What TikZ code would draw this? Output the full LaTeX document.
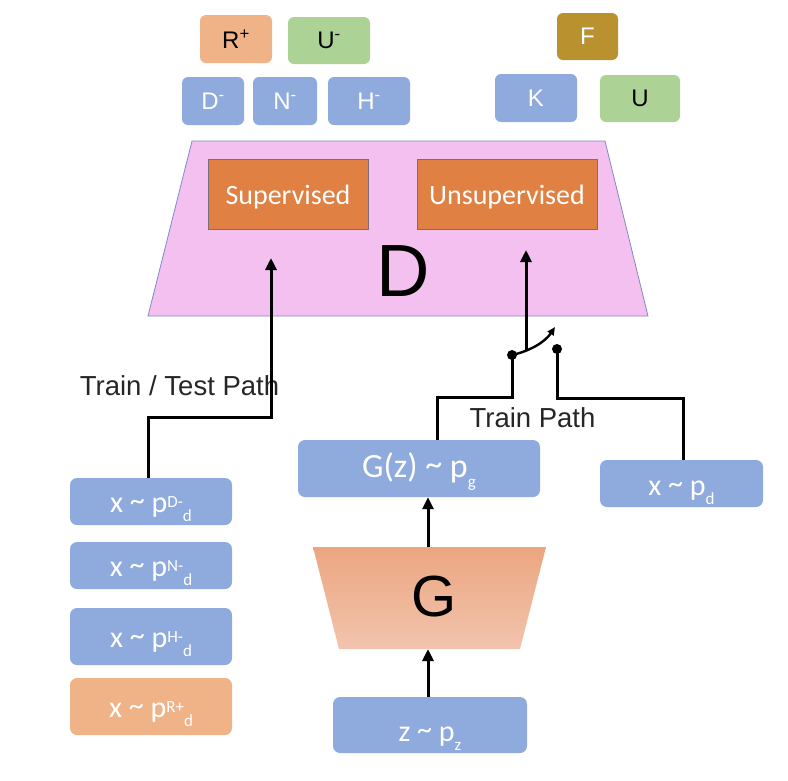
\documentclass[tikz,border=0pt]{standalone}
\usepackage{fontspec}
\setmainfont{Carlito}
\newfontfamily\arialf{Liberation Sans}
\usetikzlibrary{arrows.meta,calc}
\definecolor{boxblue}{HTML}{8FAADC}
\definecolor{boxorange}{HTML}{F0B287}
\definecolor{boxgreen}{HTML}{ADD295}
\definecolor{boxgold}{HTML}{BA912F}
\definecolor{dpink}{HTML}{F3C0F0}
\definecolor{dborder}{HTML}{8089C8}
\definecolor{darkorange}{HTML}{E08042}
\definecolor{supborder}{HTML}{7A6C78}
\definecolor{gtop}{HTML}{EBA680}
\definecolor{gbot}{HTML}{F2C4AE}
\newcommand\mysup[1]{\raisebox{0.14em}{\fontsize{17}{17}\selectfont #1}}
\newcommand\mysub[1]{\raisebox{-0.3em}{\fontsize{17}{17}\selectfont #1}}
\newcommand\tld{\raisebox{0.05em}{\textasciitilde}}
\begin{document}
\begin{tikzpicture}[x=1pt,y=-1pt,
  tag/.style={rectangle,rounded corners=6pt,inner sep=0pt,font=\arialf\fontsize{24}{24}\selectfont},
  bluetag/.style={tag,fill=boxblue,text=white},
  dist/.style={rectangle,rounded corners=7pt,inner sep=0pt,fill=boxblue,text=white,font=\fontsize{30}{30}\selectfont,text height=21pt,text depth=0pt},
  headbox/.style={rectangle,draw=supborder,line width=0.8pt,fill=darkorange,text=white,inner sep=0pt,font=\fontsize{28}{28}\selectfont,text height=20pt,text depth=0pt},
  pathlabel/.style={font=\arialf\fontsize{27.5}{27.5}\selectfont,text=black!85,inner sep=0pt},
  wire/.style={line width=3pt,black},
  arr/.style={wire,-{Triangle[length=12pt,width=11pt]}},
  sdot/.style={circle,fill=black,inner sep=0pt,minimum size=10pt}
]
\useasboundingbox (0,0) rectangle (788,780);

% top tags
\node[tag,fill=boxorange,text=black,minimum width=72pt,minimum height=48pt] (tR) at (236,39) {R\textsuperscript{+}};
\node[tag,fill=boxgreen,text=black,minimum width=82pt,minimum height=47pt] (tUm) at (329,40.5) {U\textsuperscript{-}};
\node[bluetag,minimum width=62pt,minimum height=48pt] (tD) at (213,101) {D\textsuperscript{-}};
\node[bluetag,minimum width=64pt,minimum height=48pt] (tN) at (285,101) {N\textsuperscript{-}};
\node[bluetag,minimum width=82pt,minimum height=48pt] (tH) at (369,101) {H\textsuperscript{-}};
\node[tag,fill=boxgold,text=white,minimum width=61pt,minimum height=47pt] (tF) at (587.5,36.5) {F};
\node[bluetag,minimum width=82pt,minimum height=48pt] (tK) at (536,98) {K};
\node[tag,fill=boxgreen,text=black,minimum width=80pt,minimum height=47pt] (tU) at (640,98.5) {U};

% discriminator
\draw[fill=dpink,draw=dborder,line width=0.8pt] (192,141) -- (605,141) -- (648,316) -- (148,316) -- cycle;
\node[font=\arialf\fontsize{74}{74}\selectfont,inner sep=0pt] (Dlab) at (403,271) {D};
\node[headbox,minimum width=160pt,minimum height=70pt] (sup) at (288,194) {Supervised};
\node[headbox,minimum width=180pt,minimum height=70pt] (unsup) at (507,194) {Unsupervised};
\coordinate (suptip) at (271,258);
\coordinate (unsuptip) at (526,250);

% left data boxes
\node[dist,minimum width=162pt,minimum height=47pt] (bD) at (151,501.5) {x \tld{} p\mysup{D-}\mysub{d}};
\node[dist,minimum width=162pt,minimum height=47pt] (bN) at (151,565.5) {x \tld{} p\mysup{N-}\mysub{d}};
\node[dist,minimum width=162pt,minimum height=57pt] (bH) at (151,636.5) {x \tld{} p\mysup{H-}\mysub{d}};
\node[dist,fill=boxorange,minimum width=162pt,minimum height=57pt] (bR) at (151,706.5) {x \tld{} p\mysup{R+}\mysub{d}};

\node[pathlabel] (ttp) at (179.5,386) {Train / Test Path};
\coordinate (lj) at (271,417);
\draw[arr] ([xshift=-3pt]bD.north) |- (lj) -- (suptip);

% generator side
\node[dist,font=\fontsize{34}{34}\selectfont,text height=17pt,minimum width=242pt,minimum height=57pt] (gz) at (419,468.5) {G(z) \tld{} p\mysub{g}};
\node[dist,text height=23pt,minimum width=163pt,minimum height=47pt] (xpd) at (681.5,483.5) {x \tld{} p\mysub{d}};
\node[pathlabel] (tp) at (532.5,418) {Train Path};

\node[sdot] (ldot) at (512,355) {};
\node[sdot] (rdot) at (557,349) {};
\coordinate (sw) at (526,350);
\draw[arr] (sw) -- (unsuptip);
\draw[line width=2.4pt,-{Triangle[length=8pt,width=7pt]}] (ldot.center) .. controls (530,351) and (545,342) .. (555,327);
\coordinate (lk) at (437,397);
\draw[wire] (ldot.center) |- (lk) -- (lk |- gz.north);
\coordinate (rk) at (683,398);
\draw[wire] (rdot.center) |- (rk) -- (rk |- xpd.north);

\shade[top color=gtop,bottom color=gbot] (313,547) -- (546,547) -- (520,649) -- (339,649) -- cycle;
\node[font=\arialf\fontsize{58}{58}\selectfont,inner sep=0pt] (Glab) at (434,597) {G};
\coordinate (gtopc) at (428,547);
\coordinate (gbotc) at (428,649);
\draw[arr] (gtopc) -- (gtopc |- gz.south);

\node[dist,text height=32pt,minimum width=194pt,minimum height=56pt] (zb) at (430,725) {z \tld{} p\mysub{z}};
\draw[arr] (gbotc |- zb.north) -- (gbotc);
\end{tikzpicture}
\end{document}
